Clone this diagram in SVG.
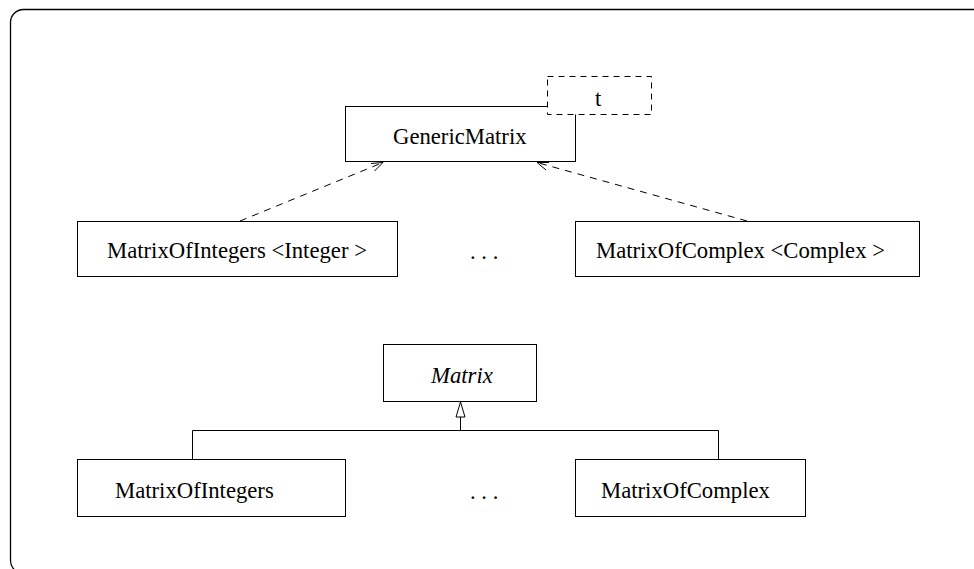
<svg xmlns="http://www.w3.org/2000/svg" width="974" height="569" viewBox="0 0 974 569">
  <defs>
    <style>
      .frame { fill: none; stroke: #000; stroke-width: 1.3; }
      .box { fill: #fff; stroke: #000; stroke-width: 1; }
      .param { fill: #fff; stroke: #000; stroke-width: 1; stroke-dasharray: 6 5; }
      .dep { fill: none; stroke: #000; stroke-width: 1; stroke-dasharray: 7 6; }
      .line { fill: none; stroke: #000; stroke-width: 1; }
      .head { fill: none; stroke: #000; stroke-width: 1; }
      .tri { fill: #fff; stroke: #000; stroke-width: 1; }
      .label { font-family: 'Liberation Serif', 'DejaVu Serif', 'Times New Roman', Times, serif; font-size: 22.7px; fill: #000; }
      .abstract { font-style: italic; }
    </style>
  </defs>
  <rect width="974" height="569" fill="#fff"/>

  <!-- outer frame -->
  <rect class="frame" x="10.5" y="9.5" width="990" height="564" rx="13" ry="13"/>

  <g font-family="Liberation Serif, DejaVu Serif, serif" font-size="22.7">
    <!-- template class with its parameter -->
    <g id="GenericMatrix">
      <rect class="box" x="345.5" y="106.5" width="230" height="55"/>
      <text class="label" x="393" y="144">GenericMatrix</text>
    </g>
    <g id="param-t">
      <rect class="param" x="547.5" y="76.5" width="104" height="38"/>
      <text class="label" x="595" y="106">t</text>
    </g>

    <g id="MatrixOfIntegersT">
      <rect class="box" x="77.5" y="221.5" width="320" height="55"/>
      <text class="label" x="107" y="258">MatrixOfIntegers &lt;Integer &gt;</text>
    </g>
    <g id="MatrixOfComplexT">
      <rect class="box" x="575.5" y="221.5" width="344" height="55"/>
      <text class="label" x="596" y="258">MatrixOfComplex &lt;Complex &gt;</text>
    </g>
    <g id="ellipsis-top">
      <text class="label" x="470" y="259">. . .</text>
    </g>

    <!-- abstract base class and subclasses -->
    <g id="Matrix">
      <rect class="box" x="383.5" y="344.5" width="153" height="57"/>
      <text class="label abstract" x="431" y="383">Matrix</text>
    </g>
    <g id="MatrixOfIntegers">
      <rect class="box" x="77.5" y="459.5" width="268" height="57"/>
      <text class="label" x="115" y="498">MatrixOfIntegers</text>
    </g>
    <g id="MatrixOfComplex">
      <rect class="box" x="575.5" y="459.5" width="230" height="57"/>
      <text class="label" x="601" y="498">MatrixOfComplex</text>
    </g>
    <g id="ellipsis-bottom">
      <text class="label" x="470" y="499">. . .</text>
    </g>
  </g>

  <g id="connectors">
    <!-- binding dependencies -->
    <path class="dep" d="M240,221 L383,162.5"/>
    <path class="head" d="M371,163.5 L383,162.5 L374.5,171"/>
    <path class="dep" d="M747,221 L537,162.5"/>
    <path class="head" d="M546,170 L537,162.5 L549,162.5"/>
    <!-- generalization -->
    <path class="line" d="M460.5,417 V430.5 M192.5,459 V430.5 H718.5 V459"/>
    <path class="tri" d="M460.5,402 L456,417 L465,417 Z"/>
  </g>
</svg>
